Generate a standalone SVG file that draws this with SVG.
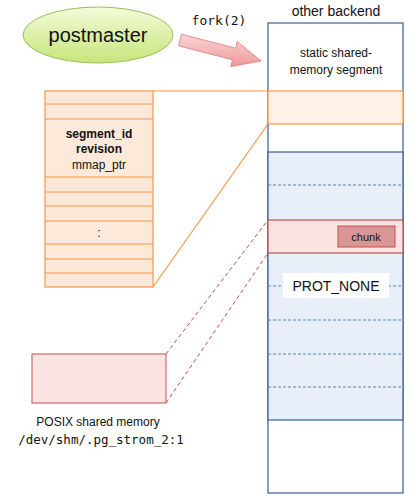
<svg xmlns="http://www.w3.org/2000/svg" width="420" height="500" viewBox="0 0 420 500">
<defs>
<linearGradient id="gEll" x1="0" y1="0" x2="0" y2="1">
<stop offset="0" stop-color="#f4fbd9"/>
<stop offset="1" stop-color="#c6e57a"/>
</linearGradient>
<linearGradient id="gArr" x1="0" y1="0" x2="0" y2="1">
<stop offset="0" stop-color="#fbd4d4"/>
<stop offset="1" stop-color="#ee9a9a"/>
</linearGradient>
</defs>
<style>
text{font-family:"Liberation Sans","Open Sans",sans-serif;fill:#111}
.mono{font-family:"DejaVu Sans Mono","Liberation Mono",monospace}
.tbl{fill:#fde9d9;stroke:#f79646;stroke-width:1.2}
.row{stroke:#f79646;stroke-width:1}
.ol{stroke:#f79646;stroke-width:1.2;fill:none}
.rd{stroke:#c0504d;stroke-width:1;fill:none;stroke-dasharray:4,3}
.bd{stroke:#4f81bd;stroke-width:1;stroke-dasharray:3,2}
</style>
<g id="connectors">
<line class="ol" x1="153" y1="91" x2="268" y2="91"/>
<line class="ol" x1="153" y1="287" x2="268" y2="124"/>
<line class="rd" x1="166" y1="354" x2="268" y2="220"/>
<line class="rd" x1="166" y1="403" x2="268" y2="253"/>
<polygon points="181.5,34.2 235.5,48.2 237.3,41.4 261,61 230.7,66.6 232.5,59.8 178.5,45.8" fill="url(#gArr)" stroke="#e07a7a" stroke-width="0.8"/>
<text class="mono" x="219" y="25" font-size="13" text-anchor="middle">fork(2)</text>
</g>
<g id="postmaster">
<ellipse cx="98" cy="35" rx="75" ry="28" fill="url(#gEll)" stroke="#9bbb59" stroke-width="1"/>
<text x="98" y="42" font-size="20" text-anchor="middle">postmaster</text>
</g>
<g id="backend">
<text x="336" y="16" font-size="14" text-anchor="middle">other backend</text>
<rect x="268" y="23" width="135" height="470" fill="#fff" stroke="#385d8a" stroke-width="1.2"/>
<text x="336" y="57" font-size="12" text-anchor="middle">static shared-</text>
<text x="336" y="74" font-size="12" text-anchor="middle">memory segment</text>
<rect x="268" y="91" width="135" height="33" fill="#fef1e6" stroke="#f79646" stroke-width="1.2"/>
<rect x="268" y="152" width="135" height="268" fill="#e9eff8" stroke="#385d8a" stroke-width="1.2"/>
<line class="bd" x1="268" y1="185" x2="403" y2="185"/>
<line class="bd" x1="268" y1="286" x2="403" y2="286"/>
<line class="bd" x1="268" y1="320" x2="403" y2="320"/>
<line class="bd" x1="268" y1="354" x2="403" y2="354"/>
<line class="bd" x1="268" y1="387" x2="403" y2="387"/>
<rect x="268" y="220" width="135" height="33" fill="#f9e3e3" stroke="#c0504d" stroke-width="1.2"/>
<rect x="338" y="226" width="57" height="21" fill="#d99694" stroke="#c0504d" stroke-width="1"/>
<text x="366" y="241" font-size="11" text-anchor="middle">chunk</text>
<rect x="283" y="273" width="106" height="25" fill="#fff"/>
<text x="336" y="291" font-size="14" text-anchor="middle">PROT_NONE</text>
</g>
<g id="table">
<rect class="tbl" x="45" y="91" width="108" height="196"/>
<line class="row" x1="45" y1="104" x2="153" y2="104"/>
<line class="row" x1="45" y1="119" x2="153" y2="119"/>
<line class="row" x1="45" y1="177" x2="153" y2="177"/>
<line class="row" x1="45" y1="192" x2="153" y2="192"/>
<line class="row" x1="45" y1="206" x2="153" y2="206"/>
<line class="row" x1="45" y1="221" x2="153" y2="221"/>
<line class="row" x1="45" y1="244" x2="153" y2="244"/>
<line class="row" x1="45" y1="259" x2="153" y2="259"/>
<line class="row" x1="45" y1="273" x2="153" y2="273"/>
<text x="99" y="138" font-size="12" font-weight="bold" text-anchor="middle">segment_id</text>
<text x="99" y="153" font-size="12" font-weight="bold" text-anchor="middle">revision</text>
<text x="99" y="169" font-size="12" text-anchor="middle">mmap_ptr</text>
<text x="99" y="237" font-size="12" text-anchor="middle">:</text>
</g>
<g id="posix">
<rect x="32" y="354" width="134" height="49" fill="#f9e3e3" stroke="#d06a6a" stroke-width="1.2"/>
<text x="98" y="426" font-size="12" text-anchor="middle">POSIX shared memory</text>
<text class="mono" x="101" y="444" font-size="12.5" text-anchor="middle">/dev/shm/.pg_strom_2:1</text>
</g>
</svg>
